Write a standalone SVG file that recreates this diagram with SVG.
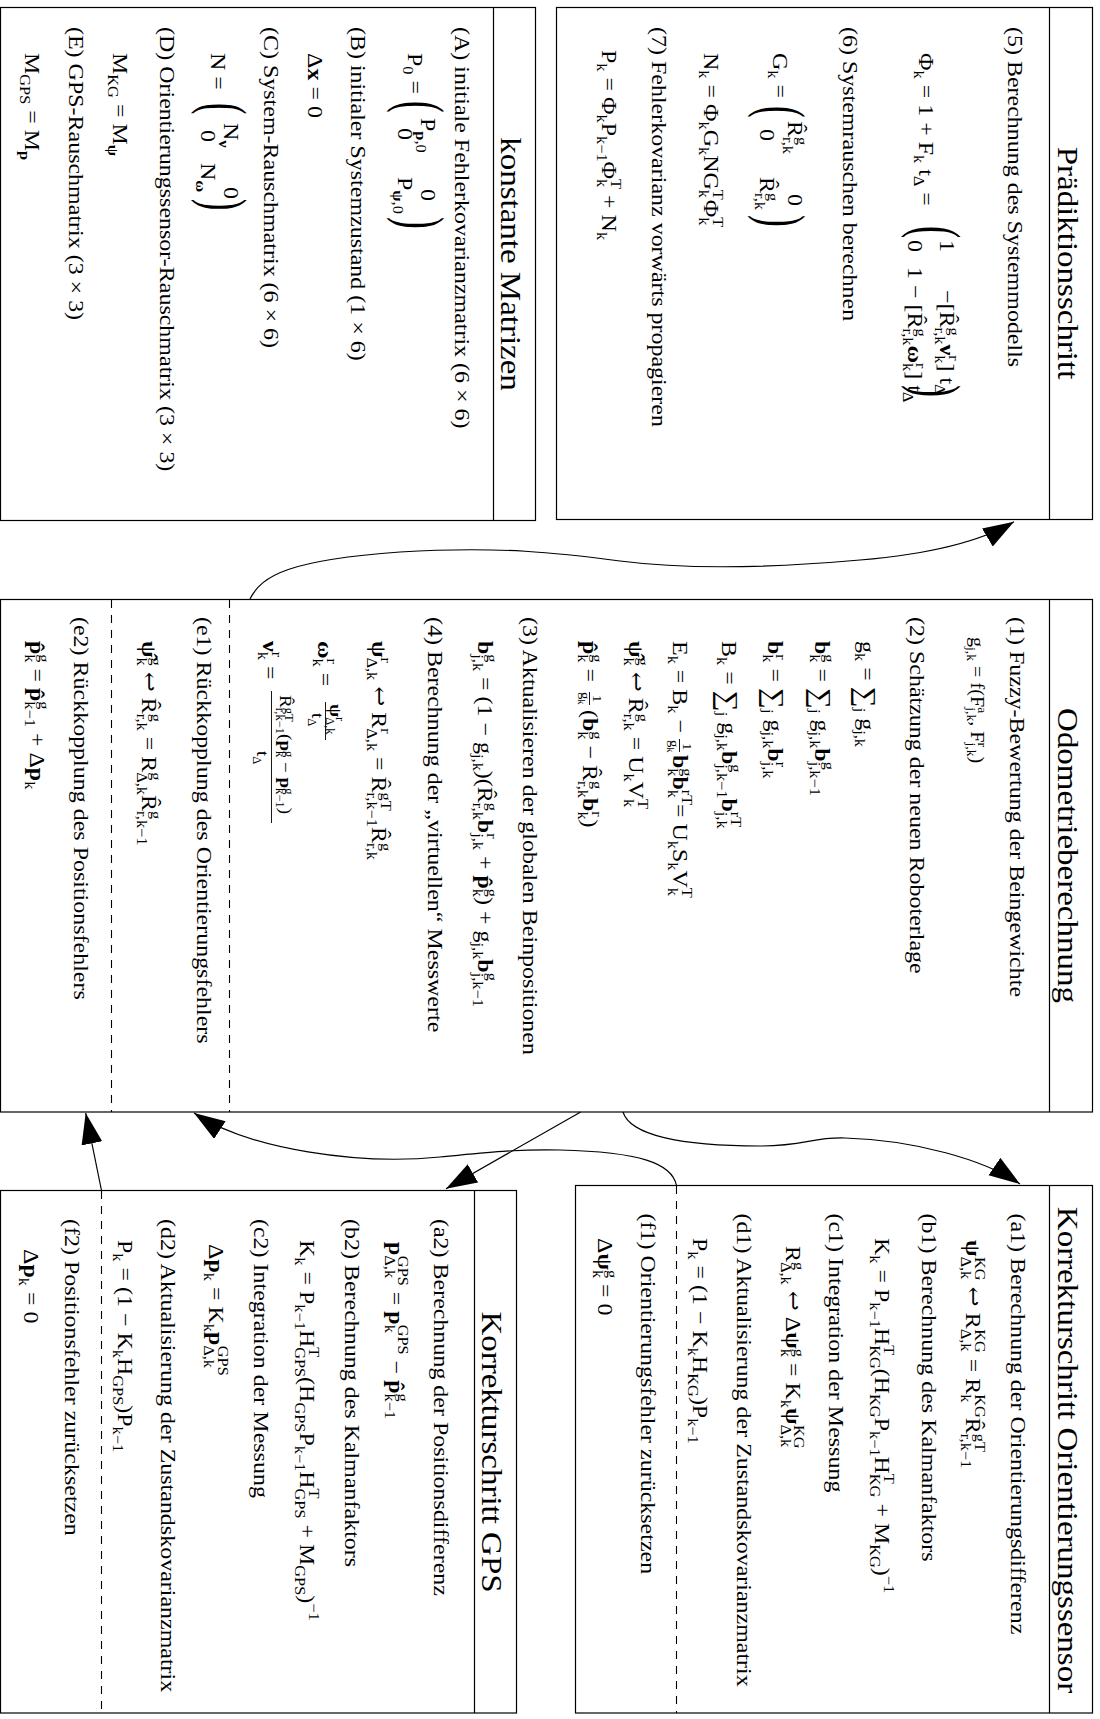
<svg xmlns="http://www.w3.org/2000/svg" width="1100" height="1719" viewBox="0 0 1100 1719">
<defs>
<style>
text{font-family:"Liberation Serif","DejaVu Serif",serif;fill:#000}
.t{font-size:22px}
.h{font-size:30px}
.b{font-weight:bold}
.sb{font-size:15px;baseline-shift:-5px}
.sp{font-size:15px;baseline-shift:8.5px}
.fn{font-size:17.5px}
.sb3{font-size:11.5px;baseline-shift:-4px}
.sp3{font-size:11.5px;baseline-shift:6px}
.fr{font-size:13.5px}
.sb2{font-size:9.5px;baseline-shift:-3px}
.g18{font-size:18.5px}
.sb4{font-size:12.5px;baseline-shift:-4px}
.sp4{font-size:12.5px;baseline-shift:7px}
.sum{font-size:27px;baseline-shift:-3px}
.box{fill:none;stroke:#000;stroke-width:1.2}
.sep{stroke:#000;stroke-width:1.2}
.dash{stroke:#000;stroke-width:1.1;stroke-dasharray:8 7;fill:none}
.bar{stroke:#000;stroke-width:0.9}
.conn{fill:none;stroke:#000;stroke-width:1.2}
</style>
<marker id="ah" markerUnits="userSpaceOnUse" markerWidth="32" markerHeight="22" refX="31" refY="10.5" orient="auto" viewBox="0 0 32 22"><path d="M0,0 L31,10.5 L0,21 z" fill="#000"/></marker>
</defs>
<rect x="0" y="0" width="1100" height="1719" fill="#fff"/>

<g id="node-praediktion">
<rect class="box" x="556.5" y="7.5" width="536" height="512"/>
<line class="sep" x1="1049.5" y1="7.5" x2="1049.5" y2="519.5"/>
<text class="h" text-anchor="middle" transform="translate(1058 263) rotate(90) scale(1.1 1)">Prädiktionsschritt</text>
<text class="t" transform="translate(1008 27) rotate(90) scale(1.09 1)">(5) Berechnung des Systemmodells</text>
<text class="t" transform="translate(919 53) rotate(90) scale(1.09 1)">Φ<tspan class="sb">k</tspan> = 1 + F<tspan class="sb">k</tspan> t<tspan class="sb">Δ</tspan> =</text>
<text font-size="66" transform="translate(915 226) rotate(90) scale(0.55 1)">(</text>
<text font-size="66" transform="translate(915 385) rotate(90) scale(0.55 1)">)</text>
<text class="t" transform="translate(940 240) rotate(90) scale(1.09 1)">1</text>
<text class="t" transform="translate(940 290) rotate(90) scale(1.09 1)">−[R&#770;<tspan class="sp">g</tspan><tspan class="sb" dx="-7.5">r,k</tspan><tspan class="b">ν</tspan><tspan class="sp">r</tspan><tspan class="sb" dx="-5">k</tspan>] t<tspan class="sb">Δ</tspan></text>
<text class="t" transform="translate(907.5 240) rotate(90) scale(1.09 1)">0</text>
<text class="t" transform="translate(907.5 267) rotate(90) scale(1.09 1)">1 − [R&#770;<tspan class="sp">g</tspan><tspan class="sb" dx="-7.5">r,k</tspan><tspan class="b">ω</tspan><tspan class="sp">r</tspan><tspan class="sb" dx="-5">k</tspan>] t<tspan class="sb">Δ</tspan></text>
<text class="t" transform="translate(843 27) rotate(90) scale(1.09 1)">(6) Systemrauschen berechnen</text>
<text class="t" transform="translate(773 53) rotate(90) scale(1.09 1)">G<tspan class="sb">k</tspan> =</text>
<text font-size="64" transform="translate(761 106) rotate(90) scale(0.55 1)">(</text>
<text font-size="64" transform="translate(761 215) rotate(90) scale(0.55 1)">)</text>
<text class="t" transform="translate(788 121) rotate(90) scale(1.09 1)">R&#770;<tspan class="sp">g</tspan><tspan class="sb" dx="-7.5">r,k</tspan></text>
<text class="t" transform="translate(788 194) rotate(90) scale(1.09 1)">0</text>
<text class="t" transform="translate(759.5 129) rotate(90) scale(1.09 1)">0</text>
<text class="t" transform="translate(759.5 177) rotate(90) scale(1.09 1)">R&#770;<tspan class="sp">g</tspan><tspan class="sb" dx="-7.5">r,k</tspan></text>
<text class="t" transform="translate(704 53) rotate(90) scale(1.09 1)">N<tspan class="sb">k</tspan> = Φ<tspan class="sb">k</tspan>G<tspan class="sb">k</tspan>NG<tspan class="sb">k</tspan><tspan class="sp" dx="-7.5">T</tspan>Φ<tspan class="sb">k</tspan><tspan class="sp" dx="-7.5">T</tspan></text>
<text class="t" transform="translate(652 27) rotate(90) scale(1.09 1)">(7) Fehlerkovarianz vorwärts propagieren</text>
<text class="t" transform="translate(602 50) rotate(90) scale(1.09 1)">P<tspan class="sb">k</tspan> = Φ<tspan class="sb">k</tspan>P<tspan class="sb">k−1</tspan>Φ<tspan class="sb">k</tspan><tspan class="sp" dx="-7.5">T</tspan> + N<tspan class="sb">k</tspan></text>
</g>

<g id="node-konstante">
<rect class="box" x="0.5" y="7.5" width="535" height="513"/>
<line class="sep" x1="493.5" y1="7.5" x2="493.5" y2="520.5"/>
<text class="h" text-anchor="middle" transform="translate(501 264) rotate(90) scale(1.1 1)">konstante Matrizen</text>
<text class="t" transform="translate(455 27) rotate(90) scale(1.09 1)">(A) initiale Fehlerkovarianzmatrix (6 × 6)</text>
<text class="t" transform="translate(408 53) rotate(90) scale(1.09 1)">P<tspan class="sb">0</tspan> =</text>
<text font-size="64" transform="translate(399.5 101) rotate(90) scale(0.55 1)">(</text>
<text font-size="64" transform="translate(399.5 217) rotate(90) scale(0.55 1)">)</text>
<text class="t" transform="translate(421 118) rotate(90) scale(1.09 1)">P<tspan class="sb"><tspan class="b">p</tspan>,0</tspan></text>
<text class="t" transform="translate(421 189) rotate(90) scale(1.09 1)">0</text>
<text class="t" transform="translate(398 128) rotate(90) scale(1.09 1)">0</text>
<text class="t" transform="translate(398 177) rotate(90) scale(1.09 1)">P<tspan class="sb"><tspan class="b">ψ</tspan>,0</tspan></text>
<text class="t" transform="translate(351 27) rotate(90) scale(1.09 1)">(B) initialer Systemzustand (1 × 6)</text>
<text class="t" transform="translate(308 53) rotate(90) scale(1.09 1)">Δ<tspan class="b">x</tspan> = 0</text>
<text class="t" transform="translate(264 27) rotate(90) scale(1.09 1)">(C) System-Rauschmatrix (6 × 6)</text>
<text class="t" transform="translate(211 53) rotate(90) scale(1.09 1)">N =</text>
<text font-size="62" transform="translate(204 103) rotate(90) scale(0.55 1)">(</text>
<text font-size="62" transform="translate(204 199) rotate(90) scale(0.55 1)">)</text>
<text class="t" transform="translate(224 123) rotate(90) scale(1.09 1)">N<tspan class="sb b">ν</tspan></text>
<text class="t" transform="translate(224 187) rotate(90) scale(1.09 1)">0</text>
<text class="t" transform="translate(201 130) rotate(90) scale(1.09 1)">0</text>
<text class="t" transform="translate(201 163) rotate(90) scale(1.09 1)">N<tspan class="sb b">ω</tspan></text>
<text class="t" transform="translate(160 27) rotate(90) scale(1.09 1)">(D) Orientierungssensor-Rauschmatrix (3 × 3)</text>
<text class="t" transform="translate(113 53) rotate(90) scale(1.09 1)">M<tspan class="sb">KG</tspan> = M<tspan class="sb b">ψ</tspan></text>
<text class="t" transform="translate(69 27) rotate(90) scale(1.09 1)">(E) GPS-Rauschmatrix (3 × 3)</text>
<text class="t" transform="translate(25 53) rotate(90) scale(1.09 1)">M<tspan class="sb">GPS</tspan> = M<tspan class="sb b">p</tspan></text>
</g>

<g id="node-odometrie">
<rect class="box" x="0.5" y="599.5" width="1092" height="512.5"/>
<line class="sep" x1="1049.5" y1="599.5" x2="1049.5" y2="1112"/>
<line class="dash" x1="229.5" y1="600" x2="229.5" y2="1112"/>
<line class="dash" x1="111.5" y1="600" x2="111.5" y2="1112"/>
<text class="h" text-anchor="middle" transform="translate(1058 855.5) rotate(90) scale(1.1 1)">Odometrieberechnung</text>
<text class="t" transform="translate(1009.5 617) rotate(90) scale(1.09 1)">(1) Fuzzy-Bewertung der Beingewichte</text>
<text class="g18" transform="translate(971 637) rotate(90) scale(1.09 1)">g<tspan class="sb4">j,k</tspan> = f(F<tspan class="sp4">a</tspan><tspan class="sb4" dx="-5.5">j,k</tspan>, F<tspan class="sp4">r</tspan><tspan class="sb4" dx="-4.2">j,k</tspan>)</text>
<text class="t" transform="translate(909.5 617) rotate(90) scale(1.09 1)">(2) Schätzung der neuen Roboterlage</text>
<text class="t" transform="translate(860 641) rotate(90) scale(1.09 1)">g<tspan class="sb">k</tspan> = <tspan class="sum">∑</tspan><tspan class="sb">j</tspan> g<tspan class="sb">j,k</tspan></text>
<text class="t" transform="translate(815 641) rotate(90) scale(1.09 1)"><tspan class="b">b</tspan><tspan class="sp">g</tspan><tspan class="sb" dx="-7.5">k</tspan> = <tspan class="sum">∑</tspan><tspan class="sb">j</tspan> g<tspan class="sb">j,k</tspan><tspan class="b">b</tspan><tspan class="sp">g</tspan><tspan class="sb" dx="-7.5">j,k−1</tspan></text>
<text class="t" transform="translate(767.5 641) rotate(90) scale(1.09 1)"><tspan class="b">b</tspan><tspan class="sp">r</tspan><tspan class="sb" dx="-5">k</tspan> = <tspan class="sum">∑</tspan><tspan class="sb">j</tspan> g<tspan class="sb">j,k</tspan><tspan class="b">b</tspan><tspan class="sp">r</tspan><tspan class="sb" dx="-5">j,k</tspan></text>
<text class="t" transform="translate(722 641) rotate(90) scale(1.09 1)">B<tspan class="sb">k</tspan> = <tspan class="sum">∑</tspan><tspan class="sb">j</tspan> g<tspan class="sb">j,k</tspan><tspan class="b">b</tspan><tspan class="sp">g</tspan><tspan class="sb" dx="-7.5">j,k−1</tspan><tspan class="b">b</tspan><tspan class="sp">rT</tspan><tspan class="sb" dx="-14.2">j,k</tspan></text>
<text class="t" transform="translate(673 641) rotate(90) scale(1.09 1)">E<tspan class="sb">k</tspan> = B<tspan class="sb">k</tspan> −</text>
<text class="fr" transform="translate(682.5 743) rotate(90) scale(1.09 1)">1</text>
<line class="bar" x1="679.5" y1="739" x2="679.5" y2="752"/>
<text class="fr" transform="translate(670 740) rotate(90) scale(1.09 1)">g<tspan class="sb2">k</tspan></text>
<text class="t" transform="translate(673 755) rotate(90) scale(1.09 1)"><tspan class="b">b</tspan><tspan class="sp">g</tspan><tspan class="sb" dx="-7.5">k</tspan><tspan class="b">b</tspan><tspan class="sp">rT</tspan><tspan class="sb" dx="-14.2">k</tspan> = U<tspan class="sb">k</tspan>S<tspan class="sb">k</tspan>V<tspan class="sb">k</tspan><tspan class="sp" dx="-7.5">T</tspan></text>
<text class="t" transform="translate(629 641) rotate(90) scale(1.09 1)"><tspan class="b">ψ&#770;</tspan><tspan class="sp">g</tspan><tspan class="sb" dx="-7.5">k</tspan> ↩ R&#770;<tspan class="sp">g</tspan><tspan class="sb" dx="-7.5">r,k</tspan> = U<tspan class="sb">k</tspan>V<tspan class="sb">k</tspan><tspan class="sp" dx="-7.5">T</tspan></text>
<text class="t" transform="translate(583 641) rotate(90) scale(1.09 1)"><tspan class="b">p&#770;</tspan><tspan class="sp">g</tspan><tspan class="sb" dx="-7.5">k</tspan> =</text>
<text class="fr" transform="translate(592.5 695) rotate(90) scale(1.09 1)">1</text>
<line class="bar" x1="589.5" y1="692" x2="589.5" y2="705"/>
<text class="fr" transform="translate(580.5 692) rotate(90) scale(1.09 1)">g<tspan class="sb2">k</tspan></text>
<text class="t" transform="translate(583 710) rotate(90) scale(1.09 1)">(<tspan class="b">b</tspan><tspan class="sp">g</tspan><tspan class="sb" dx="-7.5">k</tspan> − R&#770;<tspan class="sp">g</tspan><tspan class="sb" dx="-7.5">r,k</tspan><tspan class="b">b</tspan><tspan class="sp">r</tspan><tspan class="sb" dx="-5">k</tspan>)</text>
<text class="t" transform="translate(523 617) rotate(90) scale(1.09 1)">(3) Aktualisieren der globalen Beinpositionen</text>
<text class="t" transform="translate(478 641) rotate(90) scale(1.09 1)"><tspan class="b">b</tspan><tspan class="sp">g</tspan><tspan class="sb" dx="-7.5">j,k</tspan> = (1 − g<tspan class="sb">j,k</tspan>)(R&#770;<tspan class="sp">g</tspan><tspan class="sb" dx="-7.5">r,k</tspan><tspan class="b">b</tspan><tspan class="sp">r</tspan><tspan class="sb" dx="-5">j,k</tspan> + <tspan class="b">p&#770;</tspan><tspan class="sp">g</tspan><tspan class="sb" dx="-7.5">k</tspan>) + g<tspan class="sb">j,k</tspan><tspan class="b">b</tspan><tspan class="sp">g</tspan><tspan class="sb" dx="-7.5">j,k−1</tspan></text>
<text class="t" transform="translate(428 617) rotate(90) scale(1.09 1)">(4) Berechnung der „virtuellen“ Messwerte</text>
<text class="t" transform="translate(372 641) rotate(90) scale(1.09 1)"><tspan class="b">ψ</tspan><tspan class="sp">r</tspan><tspan class="sb" dx="-5">Δ,k</tspan> ↩ R<tspan class="sp">r</tspan><tspan class="sb" dx="-5">Δ,k</tspan> = R&#770;<tspan class="sp">gT</tspan><tspan class="sb" dx="-16.7">r,k−1</tspan>R&#770;<tspan class="sp">g</tspan><tspan class="sb" dx="-7.5">r,k</tspan></text>
<text class="t" transform="translate(318 641) rotate(90) scale(1.09 1)"><tspan class="b">ω</tspan><tspan class="sp">r</tspan><tspan class="sb" dx="-5">k</tspan> =</text>
<text class="fn" transform="translate(330 704) rotate(90) scale(1.09 1)"><tspan class="b">ψ</tspan><tspan class="sp3">r</tspan><tspan class="sb3" dx="-3.8">Δ,k</tspan></text>
<line class="bar" x1="325.5" y1="702" x2="325.5" y2="740"/>
<text class="fn" transform="translate(311.5 713) rotate(90) scale(1.09 1)">t<tspan class="sb3">Δ</tspan></text>
<text class="t" transform="translate(263 641) rotate(90) scale(1.09 1)"><tspan class="b">ν</tspan><tspan class="sp">r</tspan><tspan class="sb" dx="-5">k</tspan> =</text>
<text class="fn" transform="translate(279.5 695) rotate(90) scale(1.09 1)">R&#770;<tspan class="sp3">gT</tspan><tspan class="sb3" dx="-12.8">r,k−1</tspan>(<tspan class="b">p</tspan><tspan class="sp3">g</tspan><tspan class="sb3" dx="-5.8">k</tspan> − <tspan class="b">p</tspan><tspan class="sp3">g</tspan><tspan class="sb3" dx="-5.8">k−1</tspan>)</text>
<line class="bar" x1="271.5" y1="691" x2="271.5" y2="823"/>
<text class="fn" transform="translate(256.5 751) rotate(90) scale(1.09 1)">t<tspan class="sb3">Δ</tspan></text>
<text class="t" transform="translate(197 617) rotate(90) scale(1.09 1)">(e1) Rückkopplung des Orientierungsfehlers</text>
<text class="t" transform="translate(142 641) rotate(90) scale(1.09 1)"><tspan class="b">ψ&#770;</tspan><tspan class="sp">g</tspan><tspan class="sb" dx="-7.5">k</tspan> ↩ R&#770;<tspan class="sp">g</tspan><tspan class="sb" dx="-7.5">r,k</tspan> = R<tspan class="sp">g</tspan><tspan class="sb" dx="-7.5">Δ,k</tspan>R&#770;<tspan class="sp">g</tspan><tspan class="sb" dx="-7.5">r,k−1</tspan></text>
<text class="t" transform="translate(74 617) rotate(90) scale(1.09 1)">(e2) Rückkopplung des Positionsfehlers</text>
<text class="t" transform="translate(30 641) rotate(90) scale(1.09 1)"><tspan class="b">p&#770;</tspan><tspan class="sp">g</tspan><tspan class="sb" dx="-7.5">k</tspan> = <tspan class="b">p&#770;</tspan><tspan class="sp">g</tspan><tspan class="sb" dx="-7.5">k−1</tspan> + Δ<tspan class="b">p</tspan><tspan class="sb">k</tspan></text>
</g>

<g id="node-orientierung">
<rect class="box" x="575.5" y="1185.5" width="517" height="527.5"/>
<line class="sep" x1="1049.5" y1="1185.5" x2="1049.5" y2="1713"/>
<line class="dash" x1="676.5" y1="1186" x2="676.5" y2="1713"/>
<text class="h" text-anchor="middle" transform="translate(1058 1450) rotate(90) scale(1.1 1)">Korrekturschritt Orientierungssensor</text>
<text class="t" transform="translate(1011 1213.5) rotate(90) scale(1.09 1)">(a1) Berechnung der Orientierungsdifferenz</text>
<text class="t" transform="translate(966 1240) rotate(90) scale(1.09 1)"><tspan class="b">ψ</tspan><tspan class="sb">Δ,k</tspan><tspan class="sp" dx="-20.4">KG</tspan> ↩ R<tspan class="sb">Δ,k</tspan><tspan class="sp" dx="-20.4">KG</tspan> = R<tspan class="sb">k</tspan><tspan class="sp" dx="-7.5">KG</tspan>R&#770;<tspan class="sp">gT</tspan><tspan class="sb" dx="-16.7">r,k−1</tspan></text>
<text class="t" transform="translate(921.6 1213.5) rotate(90) scale(1.09 1)">(b1) Berechnung des Kalmanfaktors</text>
<text class="t" transform="translate(875 1238) rotate(90) scale(1.09 1)">K<tspan class="sb">k</tspan> = P<tspan class="sb">k−1</tspan>H<tspan class="sp">T</tspan><tspan class="sb" dx="-9.2">KG</tspan>(H<tspan class="sb">KG</tspan>P<tspan class="sb">k−1</tspan>H<tspan class="sp">T</tspan><tspan class="sb" dx="-9.2">KG</tspan> + M<tspan class="sb">KG</tspan>)<tspan class="sp">−1</tspan></text>
<text class="t" transform="translate(828.6 1213.5) rotate(90) scale(1.09 1)">(c1) Integration der Messung</text>
<text class="t" transform="translate(785.5 1246) rotate(90) scale(1.09 1)">R<tspan class="sp">g</tspan><tspan class="sb" dx="-7.5">Δ,k</tspan> ↩ Δ<tspan class="b">ψ</tspan><tspan class="sp">g</tspan><tspan class="sb" dx="-7.5">k</tspan> = K<tspan class="sb">k</tspan><tspan class="b">ψ</tspan><tspan class="sb">Δ,k</tspan><tspan class="sp" dx="-20.4">KG</tspan></text>
<text class="t" transform="translate(737.3 1213.5) rotate(90) scale(1.09 1)">(d1) Aktualisierung der Zustandskovarianzmatrix</text>
<text class="t" transform="translate(692.6 1238) rotate(90) scale(1.09 1)">P<tspan class="sb">k</tspan> = (1 − K<tspan class="sb">k</tspan>H<tspan class="sb">KG</tspan>)P<tspan class="sb">k−1</tspan></text>
<text class="t" transform="translate(641 1213.5) rotate(90) scale(1.09 1)">(f1) Orientierungsfehler zurücksetzen</text>
<text class="t" transform="translate(598 1238) rotate(90) scale(1.09 1)">Δ<tspan class="b">ψ</tspan><tspan class="sp">g</tspan><tspan class="sb" dx="-7.5">k</tspan> = 0</text>
</g>

<g id="node-gps">
<rect class="box" x="0.5" y="1190.5" width="516" height="522.5"/>
<line class="sep" x1="474.5" y1="1190.5" x2="474.5" y2="1713"/>
<line class="dash" x1="101.5" y1="1191" x2="101.5" y2="1713"/>
<text class="h" text-anchor="middle" transform="translate(482 1452) rotate(90) scale(1.1 1)">Korrekturschritt GPS</text>
<text class="t" transform="translate(434 1219) rotate(90) scale(1.09 1)">(a2) Berechnung der Positionsdifferenz</text>
<text class="t" transform="translate(389.3 1242) rotate(90) scale(1.09 1)"><tspan class="b">p</tspan><tspan class="sb">Δ,k</tspan><tspan class="sp" dx="-20.4">GPS</tspan> = <tspan class="b">p</tspan><tspan class="sb">k</tspan><tspan class="sp" dx="-7.5">GPS</tspan> − <tspan class="b">p&#770;</tspan><tspan class="sp">g</tspan><tspan class="sb" dx="-7.5">k−1</tspan></text>
<text class="t" transform="translate(344.6 1219) rotate(90) scale(1.09 1)">(b2) Berechnung des Kalmanfaktors</text>
<text class="t" transform="translate(300 1240) rotate(90) scale(1.09 1)">K<tspan class="sb">k</tspan> = P<tspan class="sb">k−1</tspan>H<tspan class="sp">T</tspan><tspan class="sb" dx="-9.2">GPS</tspan>(H<tspan class="sb">GPS</tspan>P<tspan class="sb">k−1</tspan>H<tspan class="sp">T</tspan><tspan class="sb" dx="-9.2">GPS</tspan> + M<tspan class="sb">GPS</tspan>)<tspan class="sp">−1</tspan></text>
<text class="t" transform="translate(254.3 1219) rotate(90) scale(1.09 1)">(c2) Integration der Messung</text>
<text class="t" transform="translate(209 1244) rotate(90) scale(1.09 1)">Δ<tspan class="b">p</tspan><tspan class="sb">k</tspan> = K<tspan class="sb">k</tspan><tspan class="b">p</tspan><tspan class="sb">Δ,k</tspan><tspan class="sp" dx="-20.4">GPS</tspan></text>
<text class="t" transform="translate(160.7 1219) rotate(90) scale(1.09 1)">(d2) Aktualisierung der Zustandskovarianzmatrix</text>
<text class="t" transform="translate(118 1240) rotate(90) scale(1.09 1)">P<tspan class="sb">k</tspan> = (1 − K<tspan class="sb">k</tspan>H<tspan class="sb">GPS</tspan>)P<tspan class="sb">k−1</tspan></text>
<text class="t" transform="translate(65 1219) rotate(90) scale(1.09 1)">(f2) Positionsfehler zurücksetzen</text>
<text class="t" transform="translate(24 1249) rotate(90) scale(1.09 1)">Δ<tspan class="b">p</tspan><tspan class="sb">k</tspan> = 0</text>
</g>

<g id="connectors">
<path class="conn" d="M250,599 C262,575 290,560 400,552 C500,546 560,553 620,561 C690,570 770,568 860,560 C930,554 980,542 1014,521.7" marker-end="url(#ah)"/>
<path class="conn" d="M623,1112 C630,1135 680,1146 760,1146 C805,1146 812,1137 845,1138 C915,1140 985,1160 1020,1184" marker-end="url(#ah)"/>
<path class="conn" d="M676.5,1185.5 C672,1163 640,1152 560,1150 C515,1149 480,1153 440,1157 C360,1165 250,1150 194,1113" marker-end="url(#ah)"/>
<line class="conn" x1="580.7" y1="1112" x2="446" y2="1188.7" marker-end="url(#ah)"/>
<line class="conn" x1="101.5" y1="1190.5" x2="85.7" y2="1113" marker-end="url(#ah)"/>
</g>
</svg>
